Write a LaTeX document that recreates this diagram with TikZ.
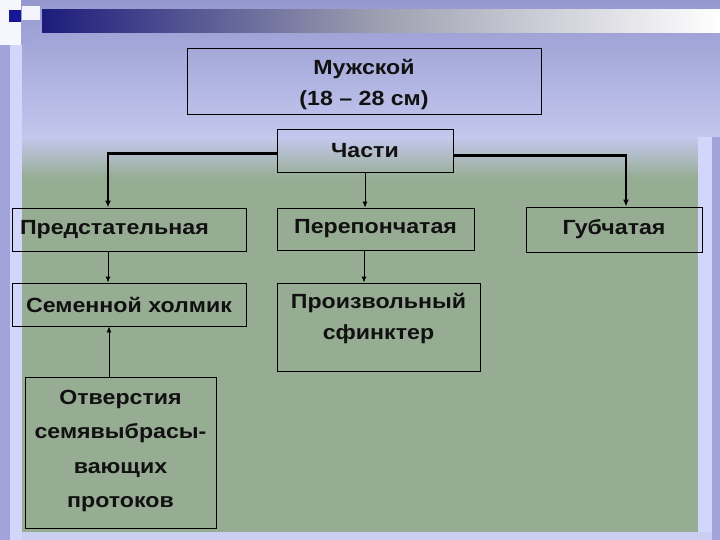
\documentclass[tikz,border=0pt]{standalone}
\usepackage{fontspec}
\setmainfont{Liberation Sans}[FakeStretch=1.13]
\usetikzlibrary{arrows.meta}
\definecolor{lav}{HTML}{C4C8EE}
\definecolor{lavtop}{HTML}{9498CF}
\definecolor{lavdark}{HTML}{A0A4DA}
\definecolor{lavlight}{HTML}{D2D6FA}
\definecolor{panel}{HTML}{97AD93}
\definecolor{navy}{HTML}{1C1C7C}
\definecolor{ink}{HTML}{111111}
\tikzset{
  box/.style={draw=black, line width=0.9pt, inner sep=0pt, align=center,
    text=ink, font=\bfseries\fontsize{20.5}{31}\selectfont},
  txt/.style={inner sep=0pt, align=center, text=ink,
    font=\bfseries\fontsize{20.5}{31}\selectfont},
  thinconn/.style={draw=black, line width=0.9pt, -{Latex[length=6pt,width=5pt]}},
  thickconn/.style={draw=black, line width=2.2pt, -{Latex[length=7pt,width=6pt]}}
}
\begin{document}
\begin{tikzpicture}[x=1pt,y=-1pt]
\useasboundingbox (0,0) rectangle (720,540);
% background
\fill[lav] (0,0) rectangle (720,540);
\shade[top color=lavtop, bottom color=lav] (0,0) rectangle (720,140);
% left strips
\fill[lavdark] (0,45) rectangle (10,540);
\fill[lavlight] (10,45) rectangle (22,540);
% top band
\shade[left color=navy, right color=white, middle color=gray!55!lav] (42,10) rectangle (720,33);
% top-left squares
\fill[white!85!lav] (0,0) rectangle (21,45);
\fill[navy!80!blue] (9,10) rectangle (21,22);
\fill[white!80!lav] (22,6) rectangle (40,20);
\fill[lavdark] (21,32) rectangle (33,44);
\fill[lavtop] (30,0) rectangle (40,6);
% green panel
\fill[panel] (22,137) rectangle (698,532);
\shade[top color=lav, bottom color=panel] (22,137) rectangle (698,178);
% right strips
\fill[lavlight] (698,137) rectangle (712,540);
\fill[lavdark] (712,137) rectangle (720,540);
\fill[lav!90!white] (22,532) rectangle (712,540);
% nodes
\node[box, minimum width=354, minimum height=66] (male) at (364,81) {};
\node[txt] (maleT) at (364,85) {Мужской\\(18 – 28 см)};
\node[box, minimum width=176, minimum height=43] (chasti) at (365,150.5) {Части};
\node[box, minimum width=234, minimum height=43, text width=218, align=left] (pred) at (129,229.5) {Предстательная};
\node[box, minimum width=197, minimum height=42] (perep) at (375.5,229) {Перепончатая};
\node[box, minimum width=176, minimum height=45] (gub) at (614,229.5) {Губчатая};
\node[box, minimum width=234, minimum height=43] (sem) at (129,304.5) {Семенной холмик};
\node[box, minimum width=203, minimum height=88] (proiz) at (378.5,327) {};
\node[txt] (proizT) at (378.5,318) {Произвольный\\сфинктер};
\node[box, minimum width=191, minimum height=151] (otv) at (120.5,452.5) {};
\node[txt, font=\bfseries\fontsize{20.5}{34.5}\selectfont] (otvT) at (120.5,451) {Отверстия\\семявыбрасы-\\вающих\\протоков};
% connectors
\draw[thickconn] ([yshift=-3]chasti.west) -| ([xshift=-21]pred.north);
\draw[thickconn] ([yshift=-5]chasti.east) -| ([xshift=12]gub.north);
\draw[thinconn] (chasti.south) -- (chasti.south |- perep.north);
\draw[thinconn] ([xshift=-11.5]perep.south) -- ([xshift=-11.5]perep.south |- proiz.north);
\draw[thinconn] ([xshift=-21]pred.south) -- ([xshift=-21]pred.south |- sem.north);
\draw[thinconn] ([xshift=-11.5]otv.north) -- ([xshift=-11.5]otv.north |- sem.south);
\end{tikzpicture}
\end{document}
